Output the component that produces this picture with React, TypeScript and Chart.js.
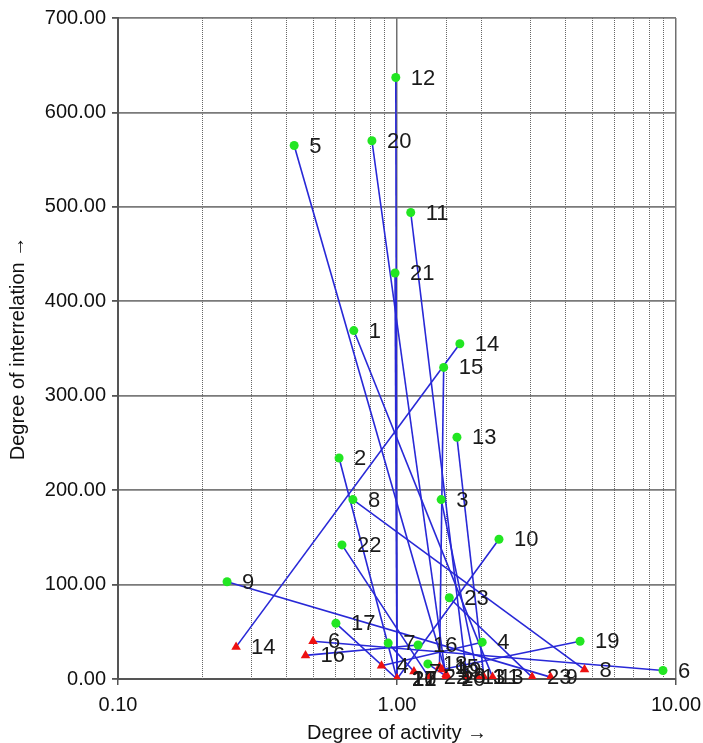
import React, { useEffect, useRef } from 'react';
import { Chart, registerables } from 'chart.js';

Chart.register(...registerables);

// Element numbers 1..23
const elementIds = [1, 2, 3, 4, 5, 6, 7, 8, 9, 10, 11, 12, 13, 14, 15, 16, 17, 18, 19, 20, 21, 22, 23];

// Green points (first state): degree of activity / degree of interrelation
const greenActivity = [0.70, 0.62, 1.44, 2.02, 0.428, 8.98, 0.93, 0.695, 0.246, 2.32, 1.12, 0.99, 1.64, 1.68, 1.47, 1.19, 0.604, 1.29, 4.53, 0.813, 0.984, 0.635, 1.54];
const greenInterrelation = [369, 234, 190, 39, 565, 9, 38, 190, 103, 148, 494, 637, 256, 355, 330, 36, 59, 16, 40, 570, 430, 142, 86];

// Red triangles (second state)
const redActivity = [2.2, 1.0, 1.95, 0.88, 1.5, 0.50, 1.15, 4.7, 3.55, 1.0, 1.78, 1.0, 2.05, 0.265, 1.42, 0.47, 1.0, 1.5, 1.45, 1.5, 1.0, 1.3, 3.05];
const redInterrelation = [2, 0, 2, 14, 5, 40, 8, 10, 2, 0, 2, 0, 2, 34, 13, 25, 0, 3, 10, 0, 0, 2, 2];

const yTickStep = 100;
const yMin = 0;
const yMax = 700;
const xMin = 0.1;
const xMax = 10;

const GREEN = '#22e622';
const RED = '#ee1111';
const BLUE = 'rgb(40,40,215)';
const FONT = "'Liberation Sans', Arial, Helvetica, sans-serif";

const isMajor = (v: number) => Math.abs(Math.log10(v) - Math.round(Math.log10(v))) < 1e-6;

const labelPlugin = {
  id: 'pointLabels',
  afterDatasetsDraw(chart: any) {
    const ctx = chart.ctx;
    ctx.save();
    ctx.font = `22px ${FONT}`;
    ctx.fillStyle = '#1a1a1a';
    ctx.textBaseline = 'middle';
    ctx.textAlign = 'left';
    [0, 1].forEach((di) => {
      const meta = chart.getDatasetMeta(di);
      meta.data.forEach((el: any, i: number) => {
        ctx.fillText(String(elementIds[i]), el.x + 15, el.y + 1);
      });
    });
    ctx.restore();
  },
};

const minorGridPlugin = {
  id: 'minorGrid',
  beforeDatasetsDraw(chart: any) {
    const xs = chart.scales.x;
    const { top, bottom } = chart.chartArea;
    const ctx = chart.ctx;
    ctx.save();
    ctx.strokeStyle = '#666';
    ctx.lineWidth = 1;
    ctx.setLineDash([1, 1]);
    xs.ticks.forEach((t: any) => {
      if (!isMajor(t.value)) {
        const px = Math.round(xs.getPixelForValue(t.value)) + 0.5;
        ctx.beginPath();
        ctx.moveTo(px, top);
        ctx.lineTo(px, bottom);
        ctx.stroke();
      }
    });
    ctx.restore();
  },
};

export default function App() {
  const canvasRef = useRef<HTMLCanvasElement | null>(null);

  useEffect(() => {
    const canvas = canvasRef.current;
    if (!canvas) return;

    const greenPts = greenActivity.map((x, i) => ({ x, y: greenInterrelation[i] }));
    const redPts = redActivity.map((x, i) => ({ x, y: redInterrelation[i] }));

    const lineSets = elementIds.map((id, i) => ({
      type: 'line' as const,
      label: `link ${id}`,
      data: [greenPts[i], redPts[i]],
      borderColor: BLUE,
      borderWidth: 1.6,
      pointRadius: 0,
      showLine: true,
      fill: false,
      order: 3,
    }));

    const chart = new Chart(canvas, {
      type: 'scatter',
      data: {
        datasets: [
          {
            label: 'green',
            data: greenPts,
            pointStyle: 'circle',
            pointRadius: 4.5,
            backgroundColor: GREEN,
            borderColor: GREEN,
            borderWidth: 0,
            order: 1,
          },
          {
            label: 'red',
            data: redPts,
            pointStyle: 'triangle',
            pointRadius: 5.5,
            backgroundColor: RED,
            borderColor: RED,
            borderWidth: 0,
            order: 0,
          },
          ...lineSets,
        ] as any,
      },
      options: {
        animation: false,
        responsive: false,
        maintainAspectRatio: false,
        layout: { padding: { top: 17, right: 27, left: 0, bottom: 0 } },
        plugins: {
          legend: { display: false },
          tooltip: { enabled: false },
        },
        scales: {
          x: {
            type: 'logarithmic',
            min: xMin,
            max: xMax,
            afterFit: (s: any) => { s.height = 64; s.paddingRight = 0; s.paddingLeft = 0; },
            ticks: {
              autoSkip: false,
              maxRotation: 0,
              padding: 8,
              color: '#111',
              font: { family: FONT, size: 20 },
              callback: (v: any) => (isMajor(Number(v)) ? Number(v).toFixed(2) : ''),
            },
            grid: {
              color: (c: any) => (c.tick && isMajor(c.tick.value) ? '#707070' : 'rgba(0,0,0,0)'),
              lineWidth: 1.5,
              tickLength: 6,
              tickColor: (c: any) => (c.tick && isMajor(c.tick.value) ? '#555' : 'rgba(0,0,0,0)'),
            },
            border: { color: '#555', width: 2 },
            title: {
              display: true,
              text: 'Degree of activity \u2192',
              color: '#111',
              font: { family: FONT, size: 20, lineHeight: 1 },
              padding: { top: 0, bottom: 0 },
            },
          },
          y: {
            type: 'linear',
            min: yMin,
            max: yMax,
            afterFit: (s: any) => { s.width = 118; },
            ticks: {
              stepSize: yTickStep,
              padding: 6,
              color: '#111',
              font: { family: FONT, size: 20 },
              callback: (v: any) => Number(v).toFixed(2),
            },
            grid: {
              color: '#7a7a7a',
              lineWidth: 1.8,
              tickLength: 6,
              tickColor: '#555',
            },
            border: { color: '#555', width: 2 },
            title: {
              display: true,
              text: 'Degree of interrelation \u2192',
              color: '#111',
              font: { family: FONT, size: 20, lineHeight: 1 },
              padding: { top: 8, bottom: 0 },
            },
          },
        },
      } as any,
      plugins: [minorGridPlugin, labelPlugin],
    });

    return () => chart.destroy();
  }, []);

  return (
    <div style={{ position: 'fixed', left: 0, top: 0, width: 703, height: 743, background: '#fff' }}>
      <canvas ref={canvasRef} width={703} height={743} style={{ display: 'block', width: 703, height: 743 }} />
    </div>
  );
}
